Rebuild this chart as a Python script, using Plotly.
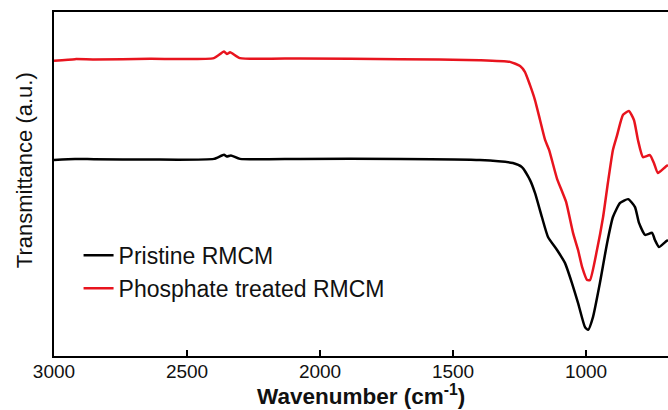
import plotly.graph_objects as go

# Wavenumber (cm-1) and transmittance (a.u.)
wn_pristine = [3000, 2921, 2850, 2639, 2399, 2361, 2350, 2335, 2301, 2075, 1699, 1399,
               1275, 1241, 1211, 1192, 1166, 1143, 1109, 1079, 1053, 1030, 1004, 992,
               974, 948, 921, 899, 872, 842, 816, 801, 778, 752, 741, 726, 703, 692]
t_pristine = [57.0, 57.3, 57.2, 57.1, 57.3, 58.5, 58.0, 58.3, 57.3, 57.3, 57.3, 57.0,
              56.1, 54.9, 51.2, 47.4, 40.4, 34.6, 30.8, 27.0, 21.2, 15.4, 8.4, 7.6,
              11.3, 21.2, 32.8, 40.4, 44.5, 45.6, 43.3, 38.7, 35.2, 35.8, 33.7, 31.7, 33.1, 33.7]

wn_treated = [3000, 2921, 2850, 2639, 2399, 2361, 2350, 2338, 2301, 2075, 1699, 1399,
              1286, 1248, 1230, 1211, 1192, 1173, 1154, 1139, 1109, 1090, 1075, 1049,
              1030, 1015, 996, 985, 959, 936, 918, 899, 884, 861, 839, 820, 805, 786,
              760, 745, 730, 703, 692]
t_treated = [85.8, 86.3, 86.2, 86.4, 86.6, 88.5, 87.8, 88.3, 86.6, 86.5, 86.3, 86.0,
             85.5, 84.3, 82.6, 78.8, 74.4, 68.6, 62.8, 59.9, 51.5, 47.8, 44.8, 35.8,
             30.8, 25.9, 22.1, 22.1, 30.8, 40.4, 50.3, 59.9, 64.0, 70.1, 71.2, 68.6, 62.8, 57.8,
             58.4, 56.1, 53.2, 54.9, 55.5]

x_ticks = [3000, 2500, 2000, 1500, 1000]
series_names = ["Pristine RMCM", "Phosphate treated RMCM"]

FONT = "Arial, Liberation Sans, sans-serif"

fig = go.Figure()
fig.add_trace(go.Scatter(x=wn_pristine, y=t_pristine, mode="lines", name=series_names[0],
                         line=dict(color="#000000", width=2.5, shape="spline", smoothing=0.5)))
fig.add_trace(go.Scatter(x=wn_treated, y=t_treated, mode="lines", name=series_names[1],
                         line=dict(color="#e8141e", width=2.5, shape="spline", smoothing=0.5)))

fig.update_layout(
    width=668, height=410,
    margin=dict(l=54, r=0, t=12, b=54, autoexpand=False),
    paper_bgcolor="white", plot_bgcolor="white",
    font=dict(family=FONT, color="#111111"),
    showlegend=True,
    legend=dict(x=0.04, y=0.355, xanchor="left", yanchor="top",
                bgcolor="rgba(0,0,0,0)", font=dict(size=23, family=FONT, color="#111111"),
                tracegroupgap=0, itemwidth=30),
    xaxis=dict(range=[3000, 692], tickvals=x_ticks, ticktext=[str(v) for v in x_ticks],
               ticks="inside", ticklen=6, tickwidth=2, tickcolor="#000",
               ticklabelstandoff=-3,
               showline=True, linecolor="#000", linewidth=2, mirror=True,
               showgrid=False, zeroline=False,
               tickfont=dict(size=19, family=FONT, color="#111111")),
    yaxis=dict(range=[0, 100], showticklabels=False, ticks="",
               showline=True, linecolor="#000", linewidth=2, mirror=False,
               showgrid=False, zeroline=False),
    annotations=[
        dict(text="<b>Wavenumber (cm<sup>-1</sup>)</b>", x=0.5, y=0, xref="paper", yref="paper",
             yshift=-39, showarrow=False, yanchor="middle",
             font=dict(size=22.5, family=FONT, color="#111111"), xanchor="center"),
        dict(text="Transmittance (a.u.)", x=0, y=0.54, xref="paper", yref="paper",
             xshift=-30, showarrow=False, textangle=-90, xanchor="center", yanchor="middle",
             font=dict(size=22, family=FONT, color="#111111")),
    ],
)

fig.write_html("out.html", config={"displayModeBar": False},
               post_script="document.body.style.margin='0';document.body.style.overflow='hidden';")
